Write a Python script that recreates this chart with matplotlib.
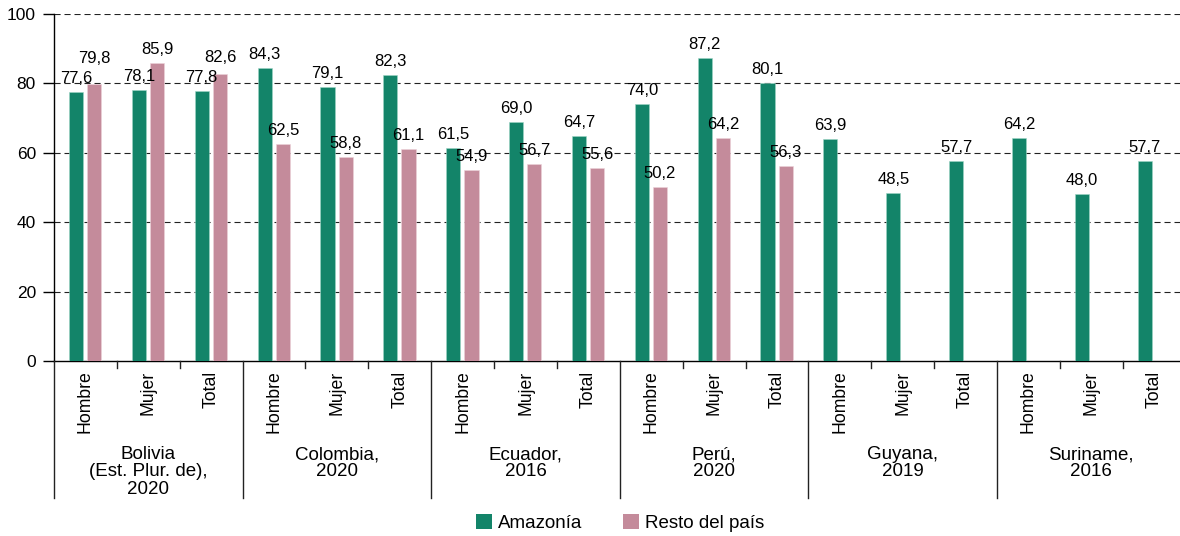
import matplotlib
matplotlib.use("Agg")
import matplotlib.pyplot as plt
from matplotlib.patches import Patch
from matplotlib.transforms import blended_transform_factory
from matplotlib.lines import Line2D

plt.rcParams['font.family'] = ['Liberation Sans', 'DejaVu Sans']

groups = ["Bolivia\n(Est. Plur. de),\n2020", "Colombia,\n2020", "Ecuador,\n2016",
          "Perú,\n2020", "Guyana,\n2019", "Suriname,\n2016"]
subcats = ["Hombre", "Mujer", "Total"]
amazonia = [77.6, 78.1, 77.8, 84.3, 79.1, 82.3, 61.5, 69.0, 64.7,
            74.0, 87.2, 80.1, 63.9, 48.5, 57.7, 64.2, 48.0, 57.7]
resto = [79.8, 85.9, 82.6, 62.5, 58.8, 61.1, 54.9, 56.7, 55.6,
         50.2, 64.2, 56.3, None, None, None, None, None, None]
yticks = [0, 20, 40, 60, 80, 100]
series_names = ["Amazonía", "Resto del país"]

GREEN = "#138469"
PINK = "#c48b9b"
FS_VAL = 12
FS_Y = 12.5
FS_X = 12.7
FS_G = 13.5

W, H = 1180, 536
fig = plt.figure(figsize=(W / 100, H / 100), dpi=100)
ax_left, ax_right = 54, 1185.6
ax_top, ax_bot = 14, 361
ax = fig.add_axes([ax_left / W, 1 - ax_bot / H, (ax_right - ax_left) / W, (ax_bot - ax_top) / H])
px_per_unit = (ax_bot - ax_top) / 100.0

n = len(amazonia)
xs = list(range(n))
bw = 0.225
xa = [x - 0.15 for x in xs]
xr = [x + 0.14 for x in xs]
ax.bar(xa, amazonia, width=bw, color=GREEN, zorder=3, edgecolor="#9fd6c6", linewidth=0.4)
ax.bar([x for x, v in zip(xr, resto) if v is not None], [v for v in resto if v is not None],
       width=bw, color=PINK, zorder=3, edgecolor="#ecd3da", linewidth=0.4)

def fmt(v):
    return f"{v:.1f}".replace(".", ",")

OFF = 9      # px above bar top
SEP = 20     # minimum vertical separation between neighbouring labels (px)

def put(x, ypx, v):
    ax.annotate(fmt(v), (x, 0), xytext=(0, ypx * 0.72), textcoords="offset points",
                ha="center", va="baseline", fontsize=FS_VAL, zorder=4)

for i in range(n):
    a = amazonia[i]
    r = resto[i]
    ya = a * px_per_unit + OFF
    if r is None:
        put(xa[i], ya, a)
        continue
    yr = r * px_per_unit + OFF
    if abs(ya - yr) < SEP:
        if yr >= ya:
            yr = ya + SEP
        else:
            ya = yr + SEP
    put(xa[i], ya, a)
    put(xr[i], yr, r)

ax.set_xlim(-0.5, n - 0.5)
ax.set_ylim(0, 100)
ax.set_yticks(yticks)
ax.set_yticklabels([str(t) for t in yticks], fontsize=FS_Y)
ax.tick_params(axis="y", length=8, width=1, pad=5)
for t in yticks[1:]:
    ax.axhline(t, color="#222222", lw=0.8, ls=(0, (5.5, 3.5)), zorder=1)

ax.set_xticks(xs)
ax.set_xticklabels([subcats[i % 3] for i in range(n)], rotation=90, fontsize=FS_X, va="top")
ax.tick_params(axis="x", length=0, pad=7)

for s in ["top", "right"]:
    ax.spines[s].set_visible(False)
ax.spines["left"].set_linewidth(1)
ax.spines["bottom"].set_linewidth(1)

trans = blended_transform_factory(ax.transData, fig.transFigure)
y0 = 1 - ax_bot / H
for i in range(1, n):
    b = i - 0.5
    y1 = 1 - (498 if i % 3 == 0 else 368) / H
    fig.add_artist(Line2D([b, b], [y0, y1], transform=trans, color="#222222", lw=1))
fig.add_artist(Line2D([-0.5, -0.5], [y0, 1 - 498 / H], transform=trans, color="#222222", lw=1))

for g, name in enumerate(groups):
    cx = g * 3 + 1
    fig.text(cx, 1 - 446 / H, name, transform=trans, ha="center", va="top",
             fontsize=FS_G, linespacing=1.02, multialignment="center")

handles = [Patch(facecolor=GREEN, label=series_names[0]),
           Patch(facecolor=PINK, label=series_names[1])]
fig.legend(handles=handles, loc="center", bbox_to_anchor=(620 / W, 1 - 523 / H),
           ncol=2, frameon=False, fontsize=FS_G, handlelength=0.85, handleheight=0.85,
           handletextpad=0.32, columnspacing=2.2)

fig.savefig("out.png", dpi=100)
